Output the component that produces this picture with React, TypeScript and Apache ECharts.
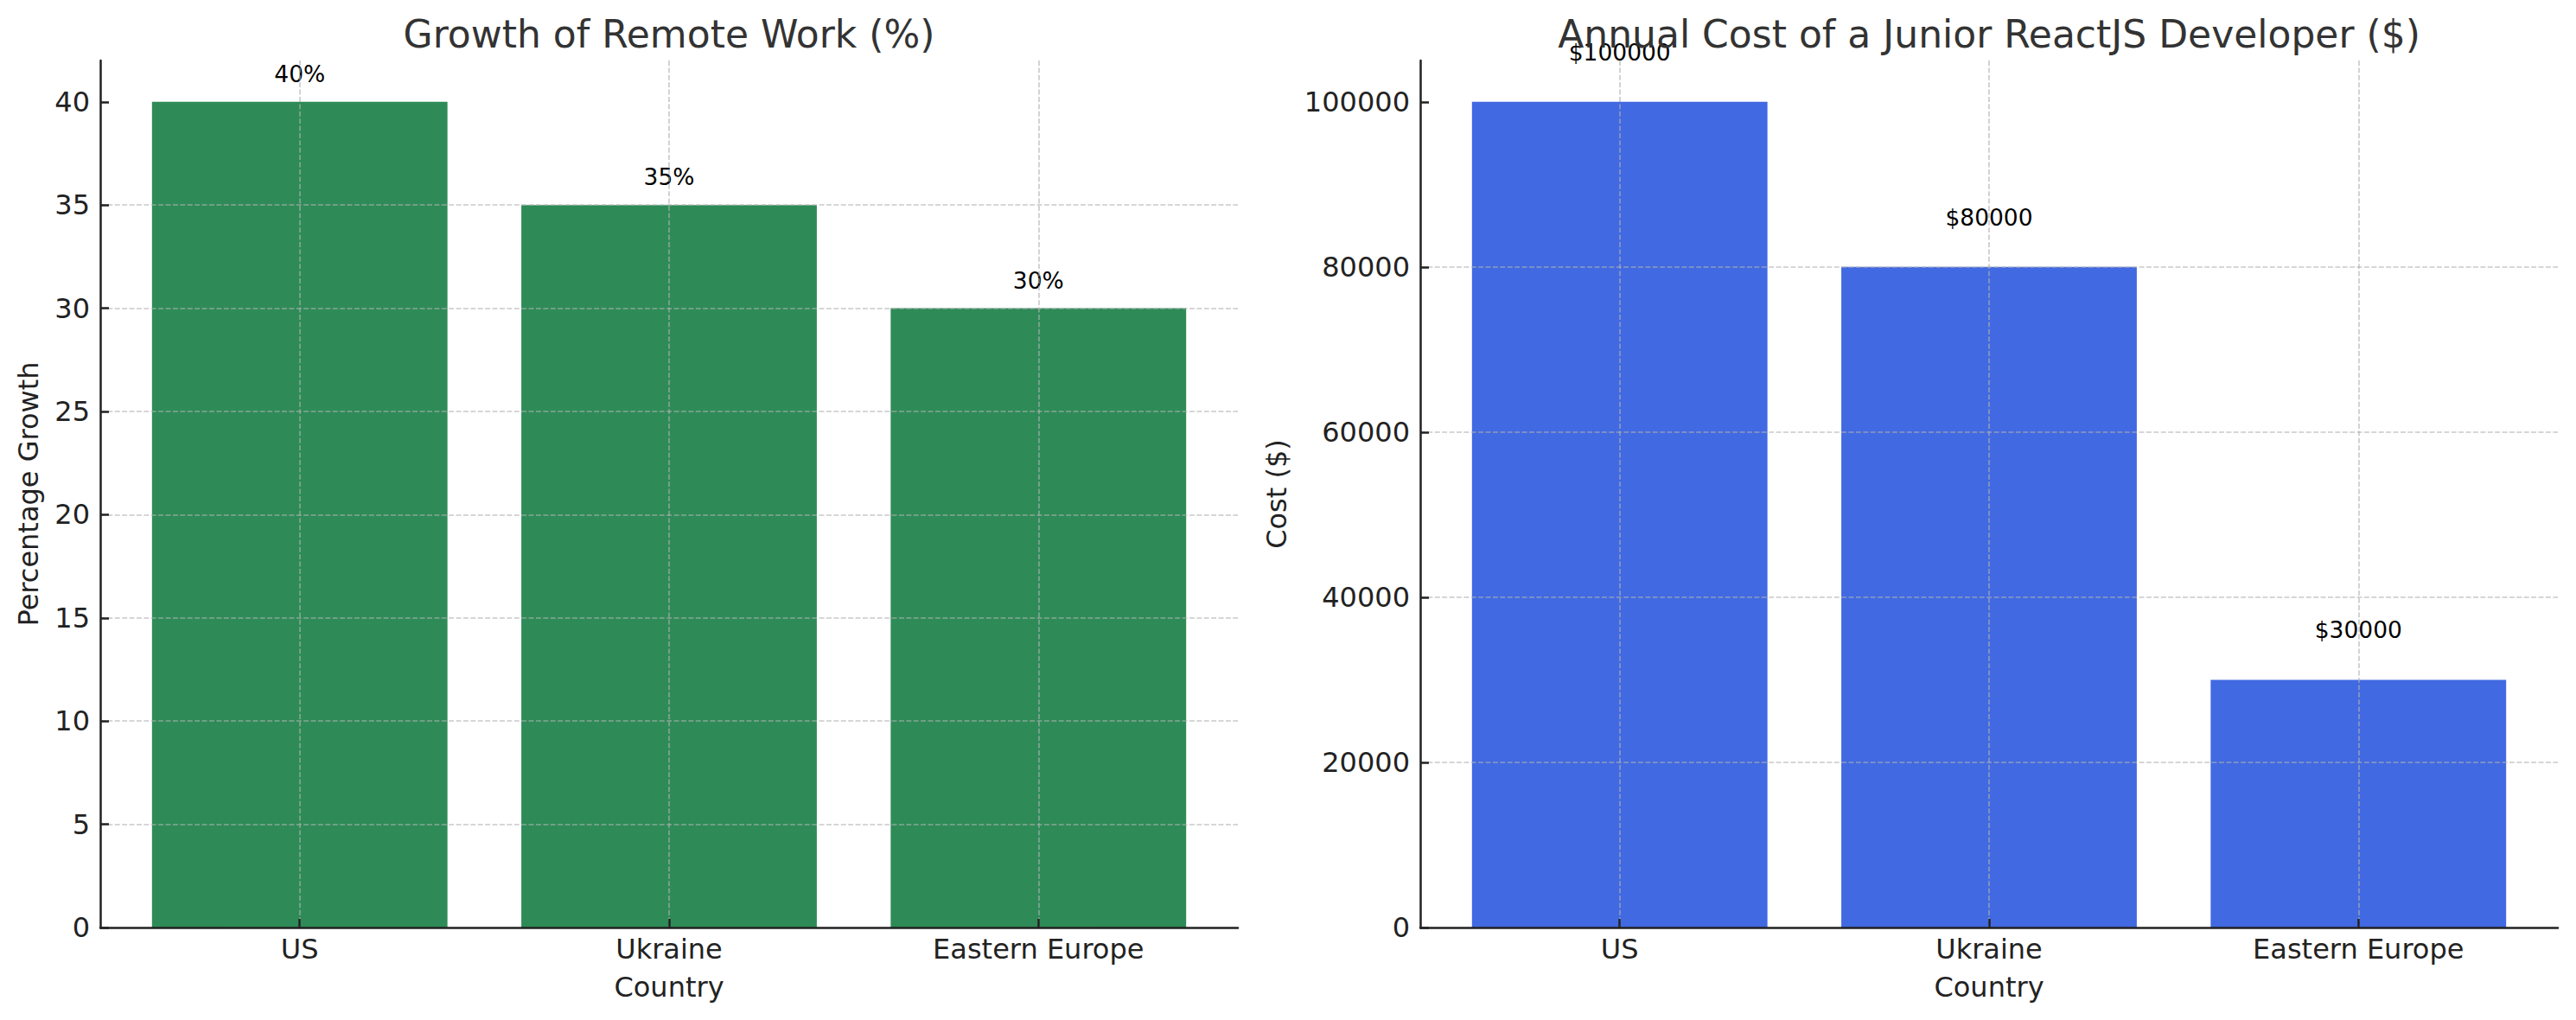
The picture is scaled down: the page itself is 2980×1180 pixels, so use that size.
import React, { useEffect, useRef } from "react";
import * as echarts from "echarts";

// ---- data ----
const categories = ["US", "Ukraine", "Eastern Europe"];
const remoteGrowth = [40, 35, 30];
const juniorCost = [100000, 80000, 30000];
const growthTicks = [0, 5, 10, 15, 20, 25, 30, 35, 40];
const costTicks = [0, 20000, 40000, 60000, 80000, 100000];
const leftTitle = "Growth of Remote Work (%)";
const rightTitle = "Annual Cost of a Junior ReactJS Developer ($)";
const xName = "Country";
const leftYName = "Percentage Growth";
const rightYName = "Cost ($)";

const FONT = "DejaVu Sans";
const BAR_W = 0.8;
const n = categories.length;
const pad = 0.05 * (n - 1 + BAR_W);
const xMin = -BAR_W / 2 - pad;
const xMax = n - 1 + BAR_W / 2 + pad;
const catIdx = categories.map((_, i) => i);

const gridLine = {
  color: "rgba(176,176,176,0.7)",
  width: 1.6,
  type: [5.9, 2.5] as any,
};

function makeX(gridIndex: number) {
  return {
    type: "value",
    gridIndex,
    min: xMin,
    max: xMax,
    z: 3,
    axisLine: { show: true, onZero: false, lineStyle: { color: "#222", width: 2.5 } },
    axisTick: {
      show: true,
      inside: true,
      length: 10,
      customValues: catIdx,
      lineStyle: { color: "#222", width: 2.5 },
    },
    axisLabel: {
      customValues: catIdx,
      formatter: (v: number) => categories[Math.round(v)] ?? "",
      fontSize: 32,
      lineHeight: 32,
      fontFamily: FONT,
      color: "#222",
      margin: 9,
    },
    splitLine: { show: true, lineStyle: gridLine },
    name: xName,
    nameLocation: "middle",
    nameGap: 53,
    nameTextStyle: { fontSize: 32, lineHeight: 32, fontFamily: FONT, color: "#222" },
  };
}

function makeY(gridIndex: number, max: number, interval: number, ticks: number[], name: string, gap: number) {
  return {
    type: "value",
    gridIndex,
    min: 0,
    max,
    interval,
    z: 3,
    axisLine: { show: true, onZero: false, lineStyle: { color: "#222", width: 2.5 } },
    axisTick: {
      show: true,
      inside: true,
      length: 10,
      customValues: ticks,
      lineStyle: { color: "#222", width: 2.5 },
    },
    axisLabel: {
      customValues: ticks,
      formatter: (v: number) => String(v),
      fontSize: 32,
      lineHeight: 32,
      fontFamily: FONT,
      color: "#222",
      margin: 12,
    },
    splitLine: { show: true, showMaxLine: false, showMinLine: false, lineStyle: gridLine },
    name,
    nameLocation: "middle",
    nameRotate: 90,
    nameGap: gap,
    nameTextStyle: { fontSize: 32, lineHeight: 32, fontFamily: FONT, color: "#222" },
  };
}

const titleStyle = { fontSize: 44, lineHeight: 44, fontWeight: "normal", color: "#333", fontFamily: FONT };

const option: any = {
  animation: false,
  backgroundColor: "#ffffff",
  title: [
    { text: leftTitle, left: 774, top: 17, textAlign: "center", padding: 0, textStyle: titleStyle },
    { text: rightTitle, left: 2301, top: 17, textAlign: "center", padding: 0, textStyle: titleStyle },
  ],
  grid: [
    { left: 116, top: 70, width: 1316, height: 1003, containLabel: false },
    { left: 1643, top: 70, width: 1316, height: 1003, containLabel: false },
  ],
  xAxis: [makeX(0), makeX(1)],
  yAxis: [
    makeY(0, Math.max(...remoteGrowth) * 1.05, 5, growthTicks, leftYName, 67),
    makeY(1, Math.max(...juniorCost) * 1.05, 20000, costTicks, rightYName, 150),
  ],
  series: [
    {
      type: "bar",
      xAxisIndex: 0,
      yAxisIndex: 0,
      data: categories.map((_, i) => [i, remoteGrowth[i]]),
      barWidth: "80%",
      itemStyle: { color: "#2E8B57" },
      label: {
        show: true,
        position: "top",
        distance: 19,
        formatter: (p: any) => `${p.value[1]}%`,
        fontSize: 26.5,
        lineHeight: 26.5,
        fontFamily: FONT,
        color: "#000",
      },
    },
    {
      type: "bar",
      xAxisIndex: 1,
      yAxisIndex: 1,
      data: categories.map((_, i) => [i, juniorCost[i]]),
      barWidth: "80%",
      itemStyle: { color: "#4169E1" },
      label: {
        show: true,
        position: "top",
        distance: 44.5,
        formatter: (p: any) => `$${p.value[1]}`,
        fontSize: 26.5,
        lineHeight: 26.5,
        fontFamily: FONT,
        color: "#000",
      },
    },
  ],
};

export default function App() {
  const ref = useRef<HTMLDivElement>(null);
  useEffect(() => {
    if (!ref.current) return;
    const chart = echarts.init(ref.current, null, { renderer: "svg" });
    chart.setOption(option);
    return () => chart.dispose();
  }, []);
  return (
    <div
      ref={ref}
      style={{ position: "fixed", left: 0, top: 0, width: 2980, height: 1180, background: "#fff" }}
    />
  );
}
